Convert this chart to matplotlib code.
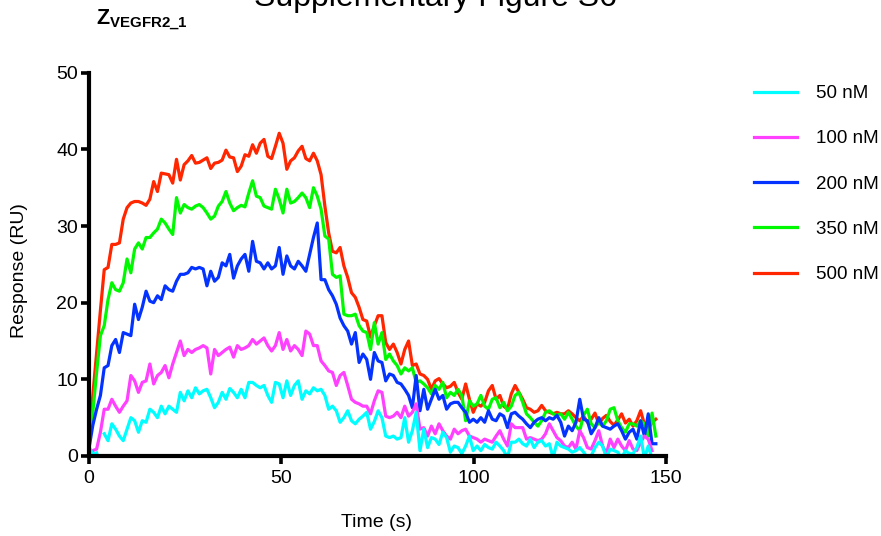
"""
Supplementary Figure S6: SPR sensorgrams of Z_VEGFR2_1 at five concentrations.
"""
import numpy as np
import matplotlib
matplotlib.use('Agg')
import matplotlib.pyplot as plt

plt.rcParams['font.family'] = ['Liberation Sans', 'DejaVu Sans']
plt.rcParams['mathtext.fontset'] = 'custom'
plt.rcParams['mathtext.rm'] = 'Liberation Sans'
plt.rcParams['mathtext.bf'] = 'Liberation Sans:bold'

labels = ['50 nM', '100 nM', '200 nM', '350 nM', '500 nM']
colors = ['#00FDFF', '#FF40FF', '#0433FF', '#00F900', '#FF2600']
sample_interval = 0.989  # s between readings

# Response (RU), one reading per sample interval starting at t = 0 s.
resp_50 = [
    1.2, 0.2, 0.4, np.nan, 2.9, 2.0, 4.2, 3.5, 2.6, 2.0,
    3.5, 5.0, 4.6, 3.1, 4.6, 4.4, 6.1, 5.7, 5.0, 6.5,
    5.5, 6.5, 6.1, 5.7, 8.3, 7.2, 8.5, 7.6, 8.9, 8.1,
    8.5, 8.7, 7.6, 6.3, 7.0, 8.3, 7.4, 8.8, 8.3, 7.6,
    8.7, 7.6, 9.6, 9.6, 9.2, 8.9, 9.2, 7.9, 7.0, 9.6,
    9.4, 7.6, 9.8, 7.9, 9.2, 9.8, 7.4, 8.5, 8.1, 8.9,
    8.5, 8.7, 7.9, 6.1, 6.5, 5.9, 4.4, 5.0, 5.9, 4.6,
    4.2, 4.8, 5.2, 5.7, 3.5, 4.5, 5.9, 5.0, 2.6, 2.4,
    2.6, 2.2, 2.4, 5.0, 1.8, 3.3, 5.7, 0.7, 3.5, 1.1,
    2.4, 2.2, 1.5, 3.1, 2.4, 0.5, 1.3, 1.1, 0.3, 1.3,
    2.6, 0.7, 1.3, 0.7, 1.5, 1.1, 0.9, 1.8, 1.3, 0.7,
    -0.2, 1.8, 1.8, 2.2, 1.6, 1.3, 2.2, 1.1, 1.8, 2.0,
    1.3, 1.6, -0.2, 1.8, 1.3, 1.1, 0.9, 0.5, 0.7, 1.1,
    0.5, -0.2, 0.0, 1.1, 1.8, 1.3, -0.2, 0.9, 0.7, 0.5,
    -0.3, 0.7, 0.3, 0.3, 1.1, 2.6, -0.3, 1.3, -0.3,
]
resp_100 = [
    0.3, 0.7, 0.9, 3.1, 6.1, 6.1, 7.4, 6.5, 5.7, 6.5,
    7.2, 10.5, 9.8, 8.3, 9.6, 9.8, 12.0, 9.4, 10.5, 10.9,
    11.8, 10.2, 12.0, 13.5, 15.0, 13.1, 13.9, 13.5, 13.9, 14.1,
    14.4, 14.1, 10.7, 13.9, 13.1, 13.5, 13.9, 14.2, 12.9, 14.4,
    13.9, 14.1, 14.4, 15.2, 14.6, 15.0, 15.4, 14.4, 13.7, 14.4,
    16.1, 13.9, 15.2, 13.7, 14.4, 13.9, 13.1, 16.3, 15.9, 14.4,
    14.4, 12.4, 11.8, 11.1, 10.9, 9.2, 10.5, 10.9, 9.2, 7.4,
    7.0, 6.8, 6.5, 6.5, 5.5, 7.2, 8.5, 8.3, 5.2, 5.0,
    5.2, 5.7, 5.0, 6.5, 5.2, 5.7, 6.8, 3.5, 3.7, 2.6,
    3.9, 2.9, 4.2, 3.3, 2.6, 2.2, 3.5, 2.9, 3.3, 3.5,
    2.6, 2.4, 2.2, 1.8, 2.2, 2.0, 1.8, 2.6, 3.3, 2.2,
    1.3, 4.2, 3.7, 3.7, 3.7, 2.2, 2.4, 2.2, 2.0, 2.2,
    2.9, 4.2, 3.3, 2.4, 2.0, 1.3, 1.1, 1.8, 0.9, 3.3,
    2.4, 1.1, 0.9, 2.0, 3.3, 1.3, 0.3, 2.2, 1.1, 2.2,
    1.3, 0.7, 2.0, 0.9, 0.7, 1.8, 2.6, 2.2, 0.7,
]
resp_200 = [
    1.0, 4.0, 6.1, 7.9, 11.5, 11.8, 14.4, 15.2, 13.5, 16.1,
    15.9, 15.7, 19.8, 17.8, 19.4, 21.5, 20.2, 20.0, 20.9, 20.4,
    22.2, 21.7, 21.5, 22.8, 23.7, 23.7, 23.9, 24.6, 24.4, 24.6,
    24.4, 22.2, 24.1, 22.8, 23.3, 25.2, 24.8, 26.3, 23.2, 24.8,
    25.7, 26.3, 24.1, 28.0, 25.4, 25.2, 24.4, 25.2, 24.4, 24.8,
    27.2, 23.7, 26.1, 24.8, 24.4, 25.4, 24.8, 24.1, 26.3, 28.5,
    30.4, 23.0, 23.0, 21.7, 20.9, 19.8, 18.0, 17.0, 16.3, 14.6,
    16.1, 12.2, 13.3, 12.6, 10.0, 13.5, 12.4, 12.2, 9.8, 10.7,
    10.5, 9.6, 9.4, 8.7, 7.9, 6.3, 10.5, 5.9, 8.7, 6.1,
    7.4, 8.7, 7.4, 7.9, 6.1, 6.8, 7.0, 7.0, 6.3, 5.7,
    4.4, 4.8, 4.4, 5.0, 4.4, 5.9, 4.8, 4.6, 5.5, 5.2,
    3.7, 5.5, 5.7, 5.2, 4.8, 4.2, 3.7, 4.4, 4.8, 5.0,
    4.6, 5.0, 4.8, 5.3, 4.4, 2.6, 3.9, 3.3, 4.4, 7.4,
    4.8, 4.6, 2.9, 3.7, 5.0, 3.9, 3.7, 3.5, 3.9, 4.2,
    3.3, 2.2, 3.1, 3.5, 2.2, 4.6, 2.6, 5.5, 1.6, 1.6,
]
resp_350 = [
    1.8, 5.7, 10.9, 15.7, 17.0, 20.4, 22.6, 21.7, 21.5, 22.6,
    25.7, 23.9, 27.0, 27.8, 27.0, 28.5, 28.5, 29.1, 29.6, 30.9,
    30.4, 29.6, 28.9, 33.7, 31.7, 32.8, 32.4, 32.2, 32.6, 32.8,
    32.4, 31.7, 30.9, 31.3, 32.6, 33.2, 34.5, 33.0, 32.0, 32.4,
    32.7, 32.5, 34.3, 35.9, 33.9, 33.7, 32.6, 32.4, 32.2, 34.8,
    33.5, 31.7, 34.8, 33.0, 33.2, 33.7, 34.3, 33.7, 32.4, 35.0,
    33.9, 32.2, 28.7, 28.3, 23.7, 23.3, 23.5, 18.5, 18.3, 18.3,
    18.5, 17.0, 16.3, 16.1, 13.9, 17.4, 14.6, 16.1, 12.6, 13.3,
    12.4, 11.8, 10.7, 11.5, 11.1, 11.5, 9.6, 9.8, 9.4, 8.9,
    8.1, 9.2, 8.7, 9.6, 7.6, 8.3, 7.9, 8.7, 7.9, 4.6,
    7.2, 6.5, 6.8, 7.9, 6.5, 6.1, 7.4, 7.6, 6.3, 7.0,
    5.9, 6.5, 7.9, 8.3, 7.0, 5.5, 5.0, 4.4, 3.9, 4.6,
    5.7, 5.9, 5.5, 5.3, 5.5, 4.8, 5.7, 4.8, 3.9, 3.3,
    5.3, 6.1, 4.2, 3.7, 4.4, 3.9, 4.6, 6.1, 6.3, 4.6,
    3.7, 3.1, 4.2, 4.2, 3.9, 4.6, 4.2, 2.6, 5.6, 2.6,
]
resp_500 = [
    1.3, 7.9, 13.5, 19.0, 24.3, 24.6, 27.6, 27.6, 27.8, 30.9,
    32.4, 33.0, 33.2, 33.2, 33.0, 32.7, 33.5, 35.8, 34.5, 36.9,
    36.8, 36.7, 35.6, 38.7, 36.0, 38.0, 38.5, 39.2, 38.2, 38.3,
    38.6, 38.9, 37.5, 38.2, 38.3, 38.6, 39.9, 39.0, 38.9, 37.1,
    37.8, 39.3, 39.1, 40.6, 39.5, 40.8, 41.3, 39.1, 38.8, 40.4,
    42.1, 40.8, 37.4, 38.5, 38.9, 39.8, 40.4, 38.8, 38.5, 39.5,
    38.5, 36.7, 32.6, 29.1, 26.7, 26.5, 27.2, 24.8, 23.3, 21.3,
    20.7, 19.4, 17.8, 17.6, 15.5, 17.0, 18.3, 18.3, 14.8, 13.9,
    14.6, 13.5, 12.0, 13.9, 15.0, 11.8, 12.0, 10.7, 10.5, 10.0,
    8.7, 9.8, 10.1, 9.4, 8.9, 9.1, 9.6, 8.3, 7.4, 9.4,
    7.4, 5.7, 6.8, 6.5, 7.0, 8.5, 9.2, 7.4, 7.9, 6.5,
    6.1, 8.1, 9.2, 8.3, 7.4, 6.3, 6.1, 5.7, 5.9, 6.6,
    5.9, 5.7, 5.5, 5.7, 5.5, 5.5, 5.9, 5.5, 5.0, 4.6,
    5.2, 4.4, 4.8, 5.6, 4.2, 4.9, 5.3, 4.5, 4.0, 4.7,
    5.5, 4.3, 4.8, 3.9, 4.6, 5.9, 4.1, 3.6, 4.4, 4.8,
]
series = [resp_50, resp_100, resp_200, resp_350, resp_500]

fig = plt.figure(figsize=(8.81, 5.36), dpi=100)
ax = fig.add_axes([89 / 881, 1 - 456 / 536, 577 / 881, 383.3 / 536])

# Highest concentration drawn first so the low ones sit on top.
for i, (vals, lab, col) in enumerate(zip(series, labels, colors)):
    t = np.arange(len(vals)) * sample_interval
    ax.plot(t, vals, color=col, lw=2.3, label=lab, zorder=10 - i)

ax.set_xlim(0, 150)
ax.set_ylim(0, 50)
ax.set_xticks([0, 50, 100, 150])
ax.set_yticks([0, 10, 20, 30, 40, 50])
for side in ['top', 'right']:
    ax.spines[side].set_visible(False)
for side in ['left', 'bottom']:
    ax.spines[side].set_linewidth(3.0)
    ax.spines[side].set_zorder(20)
ax.tick_params(axis='both', width=2.6, length=6, labelsize=14, colors='black')
ax.tick_params(axis='y', pad=2)
ax.tick_params(axis='x', pad=4)
ax.set_xlabel('Time (s)', fontsize=14)
ax.set_ylabel('Response (RU)', fontsize=14)
ax.xaxis.set_label_coords(0.499, -0.174)
ax.xaxis.label.set_va('center')
ax.yaxis.set_label_coords(-0.12, 0.485)
ax.yaxis.label.set_va('center')

ax.legend(loc='upper left', bbox_to_anchor=(754 / 881, 1 - 85 / 536),
          bbox_transform=fig.transFigure, frameon=False, fontsize=13.5,
          handlelength=2.3, handletextpad=1.0, labelspacing=1.5,
          borderpad=0, borderaxespad=0)

fig.text(435 / 881, 1 - 6 / 536, 'Supplementary Figure S6', fontsize=23,
         ha='center', va='baseline')
fig.text(96 / 881, 1 - 25 / 536, r'$\mathbf{Z_{VEGFR2\_1}}$', fontsize=15.5,
         ha='left', va='baseline')

fig.savefig('out.png', dpi=100)
